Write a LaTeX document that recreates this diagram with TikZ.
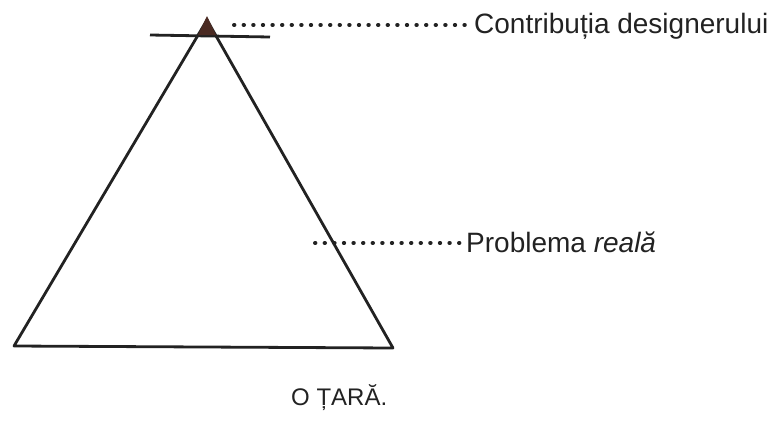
\documentclass[tikz,border=0pt]{standalone}
\usepackage{fontspec}
\setmainfont{Liberation Sans}
\definecolor{apexbrown}{HTML}{4A2A22}
\definecolor{inkgray}{HTML}{222222}
\tikzset{
  side/.style={line width=2.8pt, line join=round, draw=inkgray},
  dotline/.style={line width=4pt, line cap=round, dash pattern=on 0.4pt off 9.2pt, draw=inkgray, shorten >=6pt},
  label/.style={anchor=base west, inner sep=0pt, text=inkgray, font=\fontsize{28}{32}\selectfont}
}
\begin{document}
\begin{tikzpicture}[x=1pt, y=-1pt]
    \useasboundingbox (0,0) rectangle (780,424);

    % varful si baza triunghiului
    \coordinate (apex) at (207,20);
    \coordinate (bl) at (14,346);
    \coordinate (br) at (393,348);

    % triunghiul
    \draw[side] (bl) -- (apex) -- (br) -- cycle;
    % bara orizontala de sub varf
    \draw[side] (150,35) -- (270,37);
    % varful inchis la culoare
    \fill[apexbrown] (207,16) -- (216,35) -- (198,35) -- cycle;

    % etichete
    \node[label] (contrib) at (474,33) {Contribuția designerului};
    \node[label] (problema) at (466,252) {Problema \textit{reală}};
    \node[anchor=base west, inner sep=0pt, text=inkgray, font=\fontsize{24}{27}\selectfont] (tara) at (291,405) {O ȚARĂ.};

    % linii punctate
    \coordinate (d1) at (234,25);
    \coordinate (d2) at (315,243);
    \draw[dotline] (d1) -- (contrib.west |- d1);
    \draw[dotline] (d2) -- (problema.west |- d2);
\end{tikzpicture}
\end{document}
